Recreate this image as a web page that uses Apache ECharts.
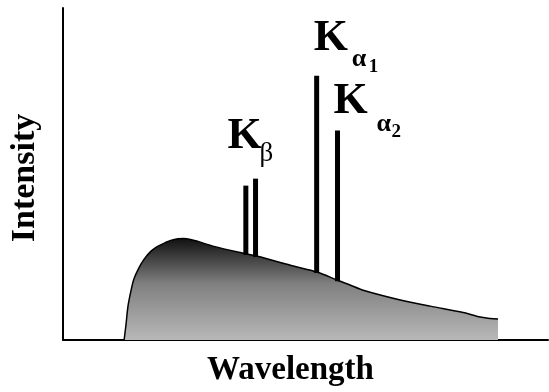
<!DOCTYPE html>
<html>
<head>
<meta charset="utf-8">
<script src="https://cdn.jsdelivr.net/npm/echarts@6.0.0/dist/echarts.min.js"></script>
<style>
  html, body { margin: 0; padding: 0; background: #fff; }
  #chart { width: 549px; height: 392px; }
</style>
</head>
<body>
<div id="chart"></div>
<script>
// continuum (bremsstrahlung) curve, arbitrary units
const contX = [12.6, 13.0, 13.4, 14.0, 14.6, 15.6, 16.7, 18.1, 19.5, 21.2, 22.2, 23.7, 24.9, 26.3, 27.8, 31.1, 37.2, 40.1, 46.9, 52.5, 56.6, 59.3, 61.9, 68.9, 75.7, 82.5, 86.0, 88.1, 89.7];
const contY = [0, 4.8, 10.2, 14.7, 18.3, 21.6, 24.3, 26.7, 28.2, 29.4, 30.0, 30.5, 30.6, 30.3, 29.7, 28.2, 26.1, 25.2, 22.5, 20.4, 18.0, 16.5, 15.0, 12.3, 10.2, 8.3, 6.9, 6.5, 6.3];

// characteristic lines: Kb (two), Ka1, Ka2
const peakX = [37.7, 39.7, 52.3, 56.6];
const peakTop = [46.5, 48.6, 79.6, 63.1];

// labels
const labelPeak = [1, 2, 3];
const labelSub = ['β', 'α', 'α'];
const labelIdx = ['', '1', '2'];

const FONT = '"Liberation Serif", "Times New Roman", serif';

function curveAt(x) {
  for (let i = 1; i < contX.length; i++) {
    if (x <= contX[i]) {
      const t = (x - contX[i - 1]) / (contX[i] - contX[i - 1]);
      return contY[i - 1] + t * (contY[i] - contY[i - 1]);
    }
  }
  return contY[contY.length - 1];
}

// pixel offsets of label pieces from the peak top
const labelLayout = [
  { k: [-28, -27], s: [4, -16], n: [0, 0] },
  { k: [-3, -23], s: [35, -8], n: [52, -2] },
  { k: [-4, -14], s: [39, 2], n: [54, 8] }
];

function txt(text, x, baseline, size, weight) {
  return {
    type: 'text',
    style: {
      text: text,
      x: x,
      y: baseline - 0.33 * size,
      font: weight + ' ' + size + 'px ' + FONT,
      fill: '#000',
      align: 'left',
      verticalAlign: 'middle'
    }
  };
}

const chart = echarts.init(document.getElementById('chart'));

const option = {
  animation: false,
  grid: { left: 62, right: 1, top: 8, bottom: 51 },
  xAxis: {
    type: 'value',
    min: 0,
    max: 100,
    name: 'Wavelength',
    nameLocation: 'middle',
    nameGap: 14,
    nameTextStyle: { fontFamily: FONT, fontWeight: 'bold', fontSize: 33, color: '#000', verticalAlign: 'top', padding: [0, 30, 0, 0] },
    axisLine: { lineStyle: { color: '#000', width: 2 } },
    axisTick: { show: false },
    axisLabel: { show: false },
    splitLine: { show: false }
  },
  yAxis: {
    type: 'value',
    min: 0,
    max: 100,
    name: 'Intensity',
    nameLocation: 'middle',
    nameRotate: 90,
    nameGap: 21,
    nameTextStyle: { fontFamily: FONT, fontWeight: 'bold', fontSize: 34, color: '#000', padding: [0, 8, 0, 0] },
    axisLine: { show: true, lineStyle: { color: '#000', width: 2 } },
    axisTick: { show: false },
    axisLabel: { show: false },
    splitLine: { show: false }
  },
  series: [
    {
      type: 'line',
      data: contX.map((x, i) => [x, contY[i]]),
      symbol: 'none',
      smooth: 0.3,
      lineStyle: { color: '#000', width: 1.5 },
      areaStyle: {
        opacity: 1,
        color: {
          type: 'linear', x: 0, y: 0, x2: 0, y2: 1,
          colorStops: [
            { offset: 0, color: '#111111' },
            { offset: 0.45, color: '#808080' },
            { offset: 1, color: '#b8b8b8' }
          ]
        }
      },
      z: 2
    },
    {
      type: 'custom',
      data: peakX.map((x, i) => [x, peakTop[i]]),
      renderItem: (params, api) => {
        const x = api.value(0);
        const top = api.coord([x, api.value(1)]);
        const base = api.coord([x, curveAt(x)]);
        return {
          type: 'rect',
          shape: { x: top[0] - 2.5, y: top[1], width: 5, height: base[1] - top[1] + 1 },
          style: { fill: '#000' }
        };
      },
      z: 3
    },
    {
      type: 'custom',
      clip: false,
      data: labelPeak.map((p, i) => [peakX[p], peakTop[p], i]),
      renderItem: (params, api) => {
        const i = api.value(2);
        const pt = api.coord([api.value(0), api.value(1)]);
        const L = labelLayout[i];
        const children = [
          txt('K', pt[0] + L.k[0], pt[1] + L.k[1], 44, 'bold'),
          txt(labelSub[i], pt[0] + L.s[0], pt[1] + L.s[1], i === 0 ? 27 : 26, i === 0 ? 'normal' : 'bold')
        ];
        if (labelIdx[i]) children.push(txt(labelIdx[i], pt[0] + L.n[0], pt[1] + L.n[1], 19, 'bold'));
        return { type: 'group', children: children };
      },
      z: 4
    }
  ]
};

chart.setOption(option);
</script>
</body>
</html>
